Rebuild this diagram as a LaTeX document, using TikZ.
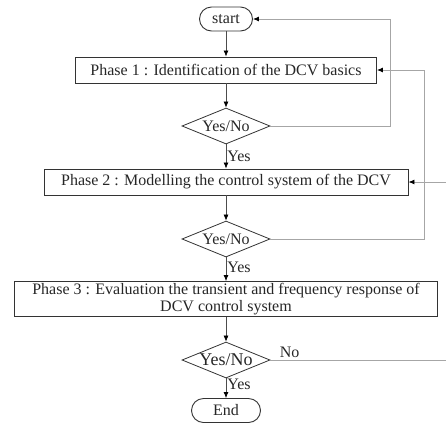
\documentclass[tikz,border=0pt]{standalone}
\usepackage{fontspec}
\setmainfont{Liberation Serif}
\usetikzlibrary{arrows.meta,shapes.geometric}
\begin{document}
\begin{tikzpicture}[x=1pt,y=-1pt,
  every node/.style={font=\fontsize{16}{17}\selectfont, text=black!85},
  term/.style={draw=black!80, line width=0.9pt, rounded corners=12pt, minimum height=24pt, inner sep=0pt},
  phasebox/.style={draw=black!80, line width=0.9pt, minimum height=26pt, inner sep=0pt, align=center},
  decision/.style={draw=black!80, line width=0.8pt, diamond, aspect=2.4, inner sep=0pt, minimum width=88pt, minimum height=36pt},
  flow/.style={draw=black!70, line width=0.7pt, -{Latex[length=6pt,width=5pt,black]}},
  back/.style={draw=black!35, line width=0.9pt, -{Latex[length=6pt,width=5pt,black]}},
  backplain/.style={draw=black!35, line width=0.9pt},
  lbl/.style={anchor=west, inner sep=1pt}
]
\useasboundingbox (0,0) rectangle (446,424);
\node[term, minimum width=53pt] (start) at (226,19) {start};
\node[phasebox, minimum width=301pt] (p1) at (226,70) {Phase 1 : Identification of the DCV basics};
\node[decision] (d1) at (226,126) {Yes/No};
\node[phasebox, minimum width=364pt] (p2) at (226,182) {Phase 2 : Modelling the control system of the DCV};
\node[decision] (d2) at (226,239) {Yes/No};
\node[phasebox, minimum width=423pt, minimum height=35pt] (p3) at (226,299) {Phase 3 : Evaluation the transient and frequency response of\\DCV control system};
\node[decision, inner sep=-3pt, font=\fontsize{18}{19}\selectfont] (d3) at (226,360) {Yes/No};
\node[term, minimum width=69pt] (end) at (226,410.5) {End};

\draw[flow] (start) -- (p1);
\draw[flow] (p1) -- (d1);
\draw[flow] (d1) -- node[lbl]{Yes} (p2);
\draw[flow] (p2) -- (d2);
\draw[flow] (d2) -- node[lbl, pos=0.4]{Yes} (p3);
\draw[flow] (p3) -- (d3);
\draw[flow] (d3) -- node[lbl, pos=0.3]{Yes} (end);

\coordinate (e3) at (446,360);
\coordinate (e2) at (446,182);
\draw[back] (d1.east) -- (390,126) |- (start.east);
\draw[back] (d2.east) -- (424,239) |- (p1.east);
\draw[backplain] (d3.east) -- node[above, pos=0.11, inner sep=2pt]{No} (e3);
\draw[back] (e2) -- (p2.east);
\end{tikzpicture}
\end{document}
